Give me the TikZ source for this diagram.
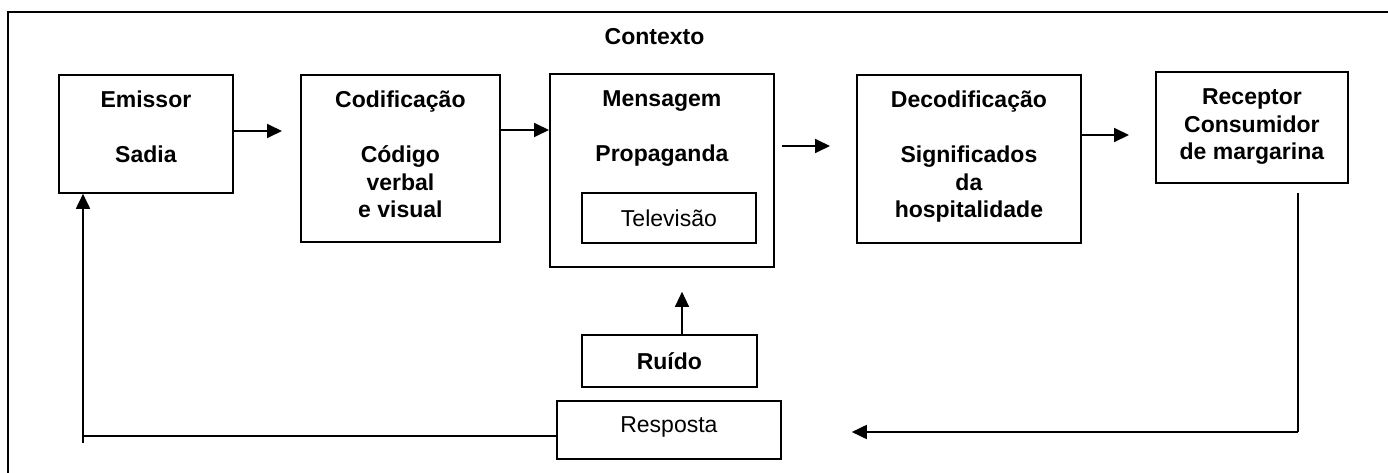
\documentclass[tikz,border=0pt]{standalone}
\usepackage{fontspec}
\setmainfont{Liberation Sans}
\usetikzlibrary{arrows.meta}
\newcommand{\boxtext}[3]{\parbox[c][#2][t]{#1}{\fontsize{23}{27.5}\selectfont\centering\vspace*{13.75pt}\strut #3}}
\tikzset{
  block/.style={draw, line width=1.8pt, inner sep=0pt, anchor=north west, font=\bfseries},
  small/.style={draw, line width=1.8pt, inner sep=0pt, anchor=north west, font=\fontsize{23}{27.5}\selectfont},
  arr/.style={line width=1.8pt, -{Triangle[length=15pt,width=14pt]}},
  thinarr/.style={line width=1.2pt, -{Triangle[length=15pt,width=14pt]}},
}
\begin{document}
\begin{tikzpicture}[x=1pt,y=-1pt]
    \clip (0,0) rectangle (1388,473);
    \draw[line width=1.8pt] (8,12) rectangle (1400,490);
    \node[anchor=base, font=\fontsize{23}{27.5}\selectfont\bfseries] (ctx) at (654.5,45) {Contexto};
    \node[block] (emi) at (58,74) {\boxtext{174pt}{118pt}{Emissor\\[27.5pt]Sadia}};
    \node[block] (cod) at (300,74) {\boxtext{199pt}{167pt}{Codificação\\[27.5pt]Código\\verbal\\e visual}};
    \node[block] (msg) at (549,73) {\boxtext{224pt}{193pt}{Mensagem\\[27.5pt]Propaganda}};
    \node[small, minimum width=174pt, minimum height=50pt] (tv) at (581,192) {Televisão};
    \node[block] (dec) at (856,74) {\boxtext{224pt}{168pt}{Decodificação\\[27.5pt]Significados\\da\\hospitalidade}};
    \node[block] (rec) at (1155,71) {\boxtext{192pt}{111pt}{Receptor\\Consumidor\\de margarina}};
    \node[small, font=\fontsize{23}{27.5}\selectfont\bfseries, minimum width=175pt, minimum height=52pt] (rui) at (581,334) {Ruído};
    \node[small, minimum width=224pt, minimum height=58pt, text height=16pt, text depth=11pt] (resp) at (556,400) {Resposta};
    \coordinate (fbcorner) at (83,436);
    \coordinate (rcorner) at (1298,432);
    \draw[arr, shorten >=18pt] (emi.east |- 0,131) -- (cod.west |- 0,131);
    \draw[arr] (cod.east |- 0,130) -- (msg.west |- 0,130);
    \draw[arr, shorten <=7pt, shorten >=26pt] (msg.east |- 0,146) -- (dec.west |- 0,146);
    \draw[arr, shorten >=26pt] (dec.east |- 0,135) -- (rec.west |- 0,135);
    \draw[thinarr, shorten >=24pt] (rui.north -| 682,0) -- (msg.south -| 682,0);
    \draw[line width=1.8pt] (resp.west |- fbcorner) -- (fbcorner);
    \draw[arr] ([yshift=-7pt]fbcorner) -- (emi.south -| fbcorner); % back to the sender
    \draw[line width=1.5pt, shorten <=9pt] (rec.south -| rcorner) -- (rcorner);
    \draw[arr, shorten >=70pt] (rcorner) -- (resp.east |- rcorner);
\end{tikzpicture}
\end{document}
